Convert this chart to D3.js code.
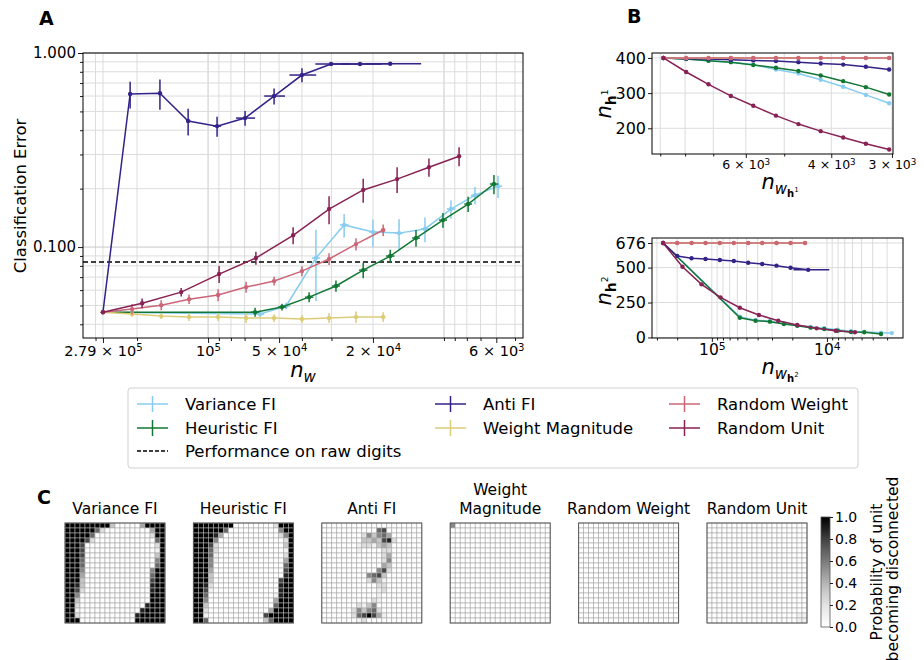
<!DOCTYPE html>
<html>
<head>
<meta charset="utf-8">
<script src="https://cdn.jsdelivr.net/npm/d3@7"></script>
<style>
  body { margin: 0; background: #fff; }
  svg text { font-family: "DejaVu Sans", sans-serif; fill: #000; }
</style>
</head>
<body>
<svg id="fig" width="924" height="660"></svg>
<script>
// ---------------- data ----------------
const methods = ["Variance FI", "Heuristic FI", "Anti FI", "Weight Magnitude", "Random Weight", "Random Unit"];
const colors = ["#88CCEE", "#117733", "#332288", "#DDCC77", "#CC6677", "#882255"];

// Panel A: number of weights, classification error, error (y) and x spread
const varianceNw  = [279000, 60200, 46700, 34900, 26500, 20000, 15500, 12040, 9340, 7390, 5900];
const varianceErr = [0.0462, 0.0452, 0.0497, 0.0878, 0.130, 0.1195, 0.118, 0.124, 0.157, 0.185, 0.206];
const varianceSd  = [0.001, 0.002, 0.002, 0.035, 0.018, 0.019, 0.021, 0.018, 0.017, 0.019, 0.027];
const varianceXsd = [0, 2400, 1900, 1400, 1100, 800, 600, 500, 400, 300, 240];

const heuristicNw  = [279000, 63200, 48600, 37300, 28700, 22000, 16900, 13140, 10100, 7900, 6140];
const heuristicErr = [0.0462, 0.0462, 0.0491, 0.0552, 0.063, 0.0761, 0.0899, 0.1113, 0.1377, 0.1666, 0.2113];
const heuristicSd  = [0.001, 0.0025, 0.002, 0.0033, 0.0042, 0.007, 0.007, 0.011, 0.012, 0.015, 0.024];
const heuristicXsd = [0, 2500, 1900, 1500, 1100, 900, 700, 500, 400, 300, 250];

const antiNw  = [279000, 214000, 160000, 121500, 91600, 69700, 52500, 40000, 30100, 22700, 16900];
const antiErr = [0.0462, 0.615, 0.62, 0.446, 0.420, 0.462, 0.600, 0.770, 0.878, 0.878, 0.88];
const antiSd  = [0.001, 0.097, 0.11, 0.07, 0.05, 0.04, 0.057, 0.064, 0.01, 0.008, 0.006];
const antiXsd = [0, 3000, 3000, 2500, 3600, 6500, 5300, 5200, 5000, 4300, 4400];

const magnitudeNw  = [279000, 210000, 158000, 120400, 90700, 69000, 52500, 40000, 30700, 23600, 18100];
const magnitudeErr = [0.0462, 0.0452, 0.0441, 0.0436, 0.0436, 0.0431, 0.0431, 0.0426, 0.0431, 0.0436, 0.0436];
const magnitudeSd  = [0.001, 0.0015, 0.0015, 0.002, 0.002, 0.0025, 0.002, 0.002, 0.0025, 0.003, 0.0025];
const magnitudeXsd = [0, 4000, 3000, 2300, 1700, 1300, 1000, 800, 600, 450, 350];

const rweightNw  = [279000, 210000, 158000, 120400, 90700, 69000, 52500, 40000, 30700, 23600, 18100];
const rweightErr = [0.0462, 0.0479, 0.0502, 0.0539, 0.0566, 0.0622, 0.0668, 0.0752, 0.0868, 0.1036, 0.1224];
const rweightSd  = [0.001, 0.003, 0.003, 0.003, 0.004, 0.004, 0.0035, 0.0045, 0.006, 0.0075, 0.0085];
const rweightXsd = [0, 4000, 3000, 2300, 1700, 1300, 1000, 800, 600, 450, 350];

const runitNw  = [279000, 190400, 130000, 89800, 62700, 43600, 30700, 22000, 15800, 11580, 8630];
const runitErr = [0.0462, 0.0514, 0.0586, 0.0726, 0.0878, 0.115, 0.157, 0.197, 0.224, 0.258, 0.294];
const runitSd  = [0.001, 0.003, 0.003, 0.0073, 0.0067, 0.0115, 0.026, 0.028, 0.034, 0.028, 0.033];
const runitXsd = [0, 1500, 1000, 700, 500, 350, 250, 180, 130, 100, 70];

const rawDigitsErr = 0.0837;
const xTicksA = [279000, 1e5, 5e4, 2e4, 6e3];
const xTickMantA = ["2.79", "", "5", "2", "6"];
const xTickExpA = ["5", "5", "4", "4", "3"];

// Panel B top: n_w(h1) vs n_h1
const nwH1 = [8865, 7960, 7160, 6440, 5790, 5200, 4675, 4205, 3780, 3395, 3040];
const h1Variance  = [400, 397, 392, 388, 381, 367, 356, 338, 318, 295, 271];
const h1Heuristic = [400, 397, 392, 388, 380, 372, 363, 350, 334, 317, 296];
const h1Anti      = [400, 398, 397, 395, 393, 391, 388, 384, 381, 375, 367];
const h1Magnitude = [400, 400, 400, 400, 400, 400, 400, 400, 400, 400, 400];
const h1RWeight   = [400, 400, 400, 400, 400, 400, 400, 400, 400, 400, 400];
const h1RUnit     = [400, 360, 325, 292, 264, 236, 212, 192, 174, 156, 140];
const xTicksB1 = [6000, 4000, 3000];
const xTickMantB1 = ["6", "4", "3"];
const yTicksB1 = [200, 300, 400];

// Panel B bottom: n_w(h2) vs n_h2
const nwH2Variance  = [265000, 57100, 41700, 31300, 23650, 18100, 13870, 10560, 8070, 6180, 4740, 3390, 2730];
const h2Variance    = [676, 148, 124, 117, 100, 88, 76, 66, 55, 45, 40, 34, 31];
const nwH2Heuristic = [265000, 57100, 41700, 31300, 23650, 18100, 13870, 10560, 8070, 6180, 4740, 3390];
const h2Heuristic   = [676, 141, 120, 113, 96, 84, 70, 60, 48, 39, 37, 25];
const nwH2Anti      = [265000, 200000, 150000, 113400, 85200, 64400, 48300, 36500, 27400, 20700, 14540];
const h2Anti        = [676, 583, 567, 562, 554, 547, 535, 526, 514, 499, 484];
const xsdH2Anti     = [0, 0, 0, 0, 0, 0, 0, 0, 0, 0, 5000];
const nwH2Magnitude = [265000, 200000, 150000, 113400, 85200, 64400, 48300, 36500, 27400, 20700, 15500];
const h2Magnitude   = [676, 676, 676, 676, 676, 676, 676, 676, 676, 676, 676];
const nwH2RWeight   = [265000, 200000, 150000, 113400, 85200, 64400, 48300, 36500, 27400, 20700, 15500];
const h2RWeight     = [676, 676, 676, 676, 676, 676, 676, 676, 676, 676, 676];
const nwH2RUnit     = [265000, 180000, 122900, 84100, 57100, 39000, 26500, 18100, 12290, 8400, 5710];
const h2RUnit       = [676, 506, 380, 287, 213, 161, 120, 89, 65, 48, 37];
const xTicksB2 = [1e5, 1e4];
const yTicksB2 = [0, 250, 500, 676];

// Panel C: 20x20 probability maps, digit 0-9 = 0.0-1.0, "." fills zeros
const gridVariance = [
  "9999999993.49999", "99999962.499", "999996.299", "999972.69", "9997.29",
  "9997.19", "9997.39", "9996.59", "9996.69", "9995.599",
  "9994.699", "9993.799", "9983.899", "9972.899", "995.999",
  "993.999", "992.8999", "991.89999", "992.899999", "999.999999"
];
const gridHeuristic = [
  "99999999.2999", "9999996.599", "999984.259", "99995.29", "99972.39",
  "99962.19", "99961.29", "99951.49", "9995.69", "9994.79",
  "9993.89", "9993.799", "9982.899", "9971.899", "996.1899",
  "995.4999", "993.6999", "992.49999", "991.799999", "996.369999"
];
const gridAnti = [
  ".", "0000000000067.", "00000000253564.", "000000003343782.", "00000001221343.",
  "00000001000022.", "00000000000024.", "00000000000025.", "00000000000043.", "00000000000572.",
  "0000000005673.", "0000000002531.", "0000000000022.", "0000000000012.", "000000000001.",
  "00000000002100.", "0000000213500.", "00000025356200.", "00000026797410.", "0000000120."
];
const gridMagnitude = ["5."];
const gridRWeight = ["0000000000000001."];
const gridRUnit = [".", ".", ".", ".", ".", ".", ".", ".", ".", "1.", ".", ".", ".", ".", ".", ".", ".", ".", ".11", ".11"];
const heatTitles = [["Variance FI"], ["Heuristic FI"], ["Anti FI"], ["Weight", "Magnitude"], ["Random Weight"], ["Random Unit"]];
const cbTicks = [0, 0.2, 0.4, 0.6, 0.8, 1.0];

// ---------------- helpers ----------------
const svg = d3.select("#fig");
const defs = svg.append("defs");
const FS = 15;

function logTicks(lo, hi) {
  const out = [];
  for (let k = Math.floor(Math.log10(lo)); k <= Math.ceil(Math.log10(hi)); k++)
    for (let m = 1; m < 10; m++) {
      const v = m * Math.pow(10, k);
      if (v >= lo && v <= hi) out.push(v);
    }
  return out;
}

function sciText(text, mant, exp, size) {
  text.text(null).attr("font-size", size);
  text.append("tspan").text(mant ? mant + " \u00d7 10" : "10");
  text.append("tspan").attr("dy", "-0.5em").attr("font-size", size * 0.7).text(exp);
}

function expandRow(r) {
  if (r === undefined) return "0".repeat(20);
  const i = r.indexOf(".");
  if (i < 0) return (r + "0".repeat(20)).slice(0, 20);
  const left = r.slice(0, i), right = r.slice(i + 1);
  return left + "0".repeat(Math.max(0, 20 - left.length - right.length)) + right;
}

function styleAxis(g) {
  g.attr("font-size", FS).attr("font-family", null);
  g.select(".domain").remove();
  g.selectAll(".tick line").attr("stroke", "#000").attr("stroke-width", 0.9);
}

function clip(id, b) {
  defs.append("clipPath").attr("id", id).append("rect")
    .attr("x", b.l).attr("y", b.t).attr("width", b.r - b.l).attr("height", b.b - b.t);
}

function drawSeries(g, x, y, s, clipId, withBars) {
  const idx = d3.range(s.x.length);
  const grp = g.append("g").attr("clip-path", `url(#${clipId})`);
  grp.append("path")
    .attr("d", d3.line().x(i => x(s.x[i])).y(i => y(s.y[i]))(idx))
    .attr("fill", "none").attr("stroke", s.color).attr("stroke-width", 1.5);
  if (withBars && s.sd) {
    grp.selectAll(".ev").data(idx).join("line").attr("class", "ev")
      .attr("x1", i => x(s.x[i])).attr("x2", i => x(s.x[i]))
      .attr("y1", i => y(s.y[i] - s.sd[i])).attr("y2", i => y(s.y[i] + s.sd[i]))
      .attr("stroke", s.color).attr("stroke-width", 1.5);
  }
  if (s.xsd) {
    grp.selectAll(".eh").data(idx.filter(i => s.xsd[i] > 0)).join("line").attr("class", "eh")
      .attr("x1", i => x(s.x[i] - s.xsd[i])).attr("x2", i => x(s.x[i] + s.xsd[i]))
      .attr("y1", i => y(s.y[i])).attr("y2", i => y(s.y[i]))
      .attr("stroke", s.color).attr("stroke-width", 1.5);
  }
  grp.selectAll("circle").data(idx).join("circle")
    .attr("cx", i => x(s.x[i])).attr("cy", i => y(s.y[i])).attr("r", 2.2)
    .attr("fill", s.color);
}

// ---------------- panel A ----------------
const A = { l: 83, r: 523, t: 53, b: 338 };
const xA = d3.scaleLog().domain([339000, 4624]).range([A.l, A.r]);
const yA = d3.scaleLog().domain([0.034, 1]).range([A.b, A.t]);
clip("clipA", A);
const gA = svg.append("g");

const xGridA = logTicks(4624, 339000);
const yGridA = logTicks(0.034, 1);
gA.append("g").selectAll("line").data(xGridA.concat([279000])).join("line")
  .attr("x1", d => xA(d)).attr("x2", d => xA(d)).attr("y1", A.t).attr("y2", A.b)
  .attr("stroke", d => d === 1e5 || d === 1e4 ? "#c8c8c8" : "#dcdcdc").attr("stroke-width", 1);
gA.append("g").selectAll("line").data(yGridA).join("line")
  .attr("x1", A.l).attr("x2", A.r).attr("y1", d => yA(d)).attr("y2", d => yA(d))
  .attr("stroke", d => d === 0.1 || d === 1 ? "#c8c8c8" : "#dcdcdc").attr("stroke-width", 1);

gA.append("line").attr("x1", A.l).attr("x2", A.r)
  .attr("y1", yA(rawDigitsErr)).attr("y2", yA(rawDigitsErr))
  .attr("stroke", "#000").attr("stroke-width", 1.4).attr("stroke-dasharray", "5,3");

const seriesA = [
  { x: varianceNw, y: varianceErr, sd: varianceSd, xsd: varianceXsd, color: colors[0] },
  { x: heuristicNw, y: heuristicErr, sd: heuristicSd, xsd: heuristicXsd, color: colors[1] },
  { x: antiNw, y: antiErr, sd: antiSd, xsd: antiXsd, color: colors[2] },
  { x: magnitudeNw, y: magnitudeErr, sd: magnitudeSd, xsd: magnitudeXsd, color: colors[3] },
  { x: rweightNw, y: rweightErr, sd: rweightSd, xsd: rweightXsd, color: colors[4] },
  { x: runitNw, y: runitErr, sd: runitSd, xsd: runitXsd, color: colors[5] }
];
seriesA.forEach(s => drawSeries(gA, xA, yA, s, "clipA", true));

gA.append("rect").attr("x", A.l).attr("y", A.t).attr("width", A.r - A.l).attr("height", A.b - A.t)
  .attr("fill", "none").attr("stroke", "#000").attr("stroke-width", 1);

gA.append("g").attr("transform", `translate(0,${A.b})`)
  .call(d3.axisBottom(xA).tickValues(xGridA.filter(v => !xTicksA.includes(v))).tickSize(3).tickFormat(""))
  .call(styleAxis);
gA.append("g").attr("transform", `translate(0,${A.b})`)
  .call(d3.axisBottom(xA).tickValues(xTicksA).tickSize(5).tickPadding(3))
  .call(styleAxis)
  .call(g => g.selectAll(".tick text").each(function (d, i) { sciText(d3.select(this), xTickMantA[i], xTickExpA[i], 14.5); }));
gA.append("g").attr("transform", `translate(${A.l},0)`)
  .call(d3.axisLeft(yA).tickValues(yGridA.filter(v => v !== 0.1 && v !== 1)).tickSize(3).tickFormat(""))
  .call(styleAxis);
gA.append("g").attr("transform", `translate(${A.l},0)`)
  .call(d3.axisLeft(yA).tickValues([0.1, 1]).tickSize(5).tickPadding(2).tickFormat(d3.format(".3f")))
  .call(styleAxis);

svg.append("text").attr("transform", "translate(26,196) rotate(-90)").attr("text-anchor", "middle")
  .attr("font-size", 16.5).text("Classification Error");
const xlabA = svg.append("text").attr("x", 303).attr("y", 377).attr("text-anchor", "middle");
xlabA.append("tspan").attr("font-style", "italic").attr("font-size", 21).text("n");
xlabA.append("tspan").attr("font-style", "italic").attr("font-size", 15).attr("dy", 5).text("w");

// ---------------- panel B ----------------
function panelB(box, xs, ys, xGrid, xTicks, xFmt, yTicks, series, clipId) {
  clip(clipId, box);
  const g = svg.append("g");
  g.append("g").selectAll("line").data(xGrid).join("line")
    .attr("x1", d => xs(d)).attr("x2", d => xs(d)).attr("y1", box.t).attr("y2", box.b)
    .attr("stroke", "#dcdcdc");
  g.append("g").selectAll("line").data(yTicks).join("line")
    .attr("x1", box.l).attr("x2", box.r).attr("y1", d => ys(d)).attr("y2", d => ys(d))
    .attr("stroke", "#dcdcdc");
  series.forEach(s => drawSeries(g, xs, ys, s, clipId, false));
  g.append("rect").attr("x", box.l).attr("y", box.t).attr("width", box.r - box.l).attr("height", box.b - box.t)
    .attr("fill", "none").attr("stroke", "#000");
  g.append("g").attr("transform", `translate(0,${box.b})`)
    .call(d3.axisBottom(xs).tickValues(xGrid.filter(v => !xTicks.includes(v))).tickSize(2.5).tickFormat(""))
    .call(styleAxis);
  g.append("g").attr("transform", `translate(0,${box.b})`)
    .call(d3.axisBottom(xs).tickValues(xTicks).tickSize(4).tickPadding(2))
    .call(styleAxis)
    .call(gg => gg.selectAll(".tick text").each(function (d, i) { xFmt(d3.select(this), d, i); }));
  g.append("g").attr("transform", `translate(${box.l},0)`)
    .call(d3.axisLeft(ys).tickValues(yTicks).tickSize(4).tickPadding(2))
    .call(styleAxis).attr("font-size", 16);
}

const B1 = { l: 652, r: 893, t: 53, b: 154 };
const xB1 = d3.scaleLog().domain([9360, 2985]).range([B1.l, B1.r]);
const yB1 = d3.scaleLinear().domain([127, 414]).range([B1.b, B1.t]);
panelB(B1, xB1, yB1, logTicks(2985, 9360), xTicksB1,
  (t, d, i) => sciText(t, xTickMantB1[i], "3", 12.5), yTicksB1, [
    { x: nwH1, y: h1Variance, color: colors[0] },
    { x: nwH1, y: h1Heuristic, color: colors[1] },
    { x: nwH1, y: h1Anti, color: colors[2] },
    { x: nwH1, y: h1Magnitude, color: colors[3] },
    { x: nwH1, y: h1RWeight, color: colors[4] },
    { x: nwH1, y: h1RUnit, color: colors[5] }
  ], "clipB1");

const B2 = { l: 652, r: 903, t: 238, b: 338 };
const xB2 = d3.scaleLog().domain([331000, 2183]).range([B2.l, B2.r]);
const yB2 = d3.scaleLinear().domain([-4, 712]).range([B2.b, B2.t]);
panelB(B2, xB2, yB2, logTicks(2183, 331000), xTicksB2,
  (t, d) => sciText(t, "", String(Math.round(Math.log10(d))), 15.5), yTicksB2, [
    { x: nwH2Variance, y: h2Variance, color: colors[0] },
    { x: nwH2Heuristic, y: h2Heuristic, color: colors[1] },
    { x: nwH2Anti, y: h2Anti, xsd: xsdH2Anti, color: colors[2] },
    { x: nwH2Magnitude, y: h2Magnitude, color: colors[3] },
    { x: nwH2RWeight, y: h2RWeight, color: colors[4] },
    { x: nwH2RUnit, y: h2RUnit, color: colors[5] }
  ], "clipB2");

function hLabel(x, y, sub) {
  const t = svg.append("text").attr("text-anchor", "middle").attr("x", x).attr("y", y);
  t.append("tspan").attr("font-style", "italic").attr("font-size", 21).text("n");
  t.append("tspan").attr("font-style", "italic").attr("font-size", 15).attr("dy", 5).text("w");
  t.append("tspan").attr("font-weight", "bold").attr("font-size", 10).attr("dy", 3).text("h");
  t.append("tspan").attr("font-size", 7).attr("dy", -5).text(sub);
}
function hyLabel(x, y, sup) {
  const t = svg.append("text").attr("text-anchor", "middle")
    .attr("transform", `translate(${x},${y}) rotate(-90)`);
  t.append("tspan").attr("font-style", "italic").attr("font-size", 21).text("n");
  t.append("tspan").attr("font-weight", "bold").attr("font-size", 14).attr("dy", 5).text("h");
  t.append("tspan").attr("font-size", 9).attr("dy", -8).text(sup);
}
hyLabel(611, 104, "1");
hyLabel(611, 291, "2");
hLabel(780, 189, "1");
hLabel(780, 374, "2");

// ---------------- legend ----------------
const LFS = 16.5;
const leg = svg.append("g");
leg.append("rect").attr("x", 128).attr("y", 388).attr("width", 730).attr("height", 80).attr("rx", 3)
  .attr("fill", "#fff").attr("stroke", "#d0d0d0");
const legCols = [137, 435, 669];
const legRows = [404, 428, 451];
methods.forEach((m, i) => {
  const cx = legCols[Math.floor(i / 2)], cy = legRows[i % 2];
  const it = leg.append("g");
  it.append("line").attr("x1", cx).attr("x2", cx + 31).attr("y1", cy).attr("y2", cy)
    .attr("stroke", colors[i]).attr("stroke-width", 1.5);
  it.append("line").attr("x1", cx + 15.5).attr("x2", cx + 15.5).attr("y1", cy - 8).attr("y2", cy + 8)
    .attr("stroke", colors[i]).attr("stroke-width", 1.5);
  it.append("text").attr("x", cx + 48).attr("y", cy + 6).attr("font-size", LFS).text(m);
});
leg.append("line").attr("x1", 137).attr("x2", 168).attr("y1", legRows[2]).attr("y2", legRows[2])
  .attr("stroke", "#000").attr("stroke-width", 1.3).attr("stroke-dasharray", "4,2");
leg.append("text").attr("x", 185).attr("y", legRows[2] + 6).attr("font-size", LFS).text("Performance on raw digits");

// ---------------- panel C ----------------
const grids = [gridVariance, gridHeuristic, gridAnti, gridMagnitude, gridRWeight, gridRUnit];
const heatPos = d3.scaleLinear().domain([0, 5]).range([65, 707]);
const cell = d3.scaleBand().domain(d3.range(20)).range([0, 100]);
const heatTop = 523;
grids.forEach((gr, k) => {
  const g = svg.append("g").attr("transform", `translate(${heatPos(k)},${heatTop})`);
  const cells = [];
  d3.range(20).forEach(r => {
    const row = expandRow(gr[r]);
    d3.range(20).forEach(c => cells.push({ r, c, v: +row[c] / 9 }));
  });
  g.selectAll("rect.c").data(cells).join("rect").attr("class", "c")
    .attr("x", d => cell(d.c)).attr("y", d => cell(d.r))
    .attr("width", cell.bandwidth()).attr("height", cell.bandwidth())
    .attr("fill", d => d3.interpolateGreys(d.v)).attr("stroke", "#a8a8a8").attr("stroke-width", 0.6);
  g.append("rect").attr("width", 100).attr("height", 100).attr("fill", "none")
    .attr("stroke", "#555").attr("stroke-width", 1);
  const lines = heatTitles[k];
  lines.forEach((ln, j) => {
    g.append("text").attr("x", 50).attr("y", -9 - (lines.length - 1 - j) * 19)
      .attr("text-anchor", "middle").attr("font-size", 15.5).text(ln);
  });
});

// colorbar
const grad = defs.append("linearGradient").attr("id", "cbGrad")
  .attr("x1", 0).attr("y1", 1).attr("x2", 0).attr("y2", 0);
d3.range(0, 1.0001, 0.1).forEach(t => grad.append("stop").attr("offset", t).attr("stop-color", d3.interpolateGreys(t)));
const cbY = d3.scaleLinear().domain([0, 1]).range([627, 517]);
svg.append("rect").attr("x", 821).attr("y", 517).attr("width", 9).attr("height", 110)
  .attr("fill", "url(#cbGrad)").attr("stroke", "#555").attr("stroke-width", 0.8);
svg.append("g").attr("transform", "translate(830,0)")
  .call(d3.axisRight(cbY).tickValues(cbTicks).tickSize(3).tickPadding(2).tickFormat(d3.format(".1f")))
  .call(styleAxis).attr("font-size", 14);
svg.append("text").attr("transform", "translate(882,572) rotate(-90)").attr("text-anchor", "middle")
  .attr("font-size", 15.5).text("Probability of unit");
svg.append("text").attr("transform", "translate(898,569) rotate(-90)").attr("text-anchor", "middle")
  .attr("font-size", 15.5).text("becoming disconnected");

// panel letters
[["A", 39, 25], ["B", 627, 23], ["C", 37, 504]].forEach(([t, x, y]) =>
  svg.append("text").attr("x", x).attr("y", y).attr("font-size", 19).attr("font-weight", "bold").text(t));
</script>
</body>
</html>
